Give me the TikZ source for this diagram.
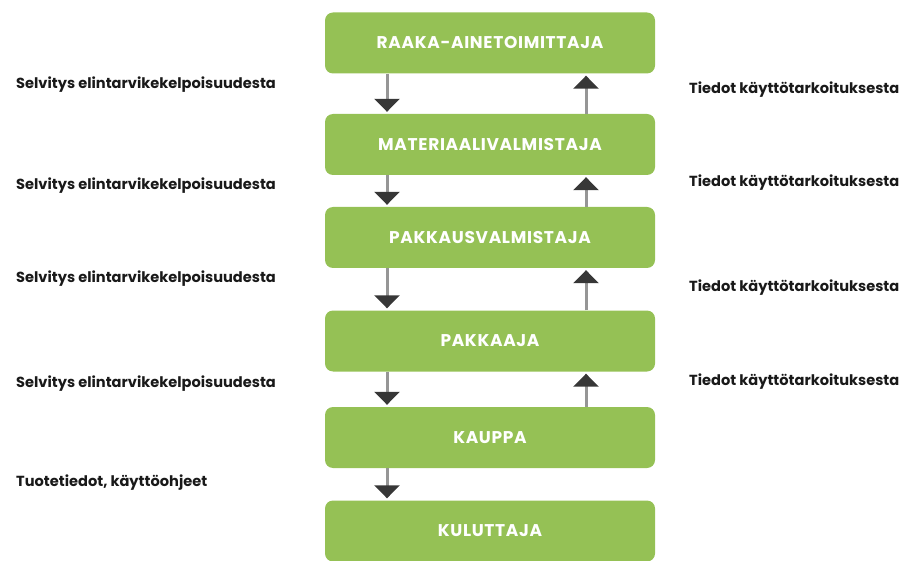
\documentclass[tikz,border=0pt]{standalone}
\usepackage{fontspec}
\setmainfont{Poppins}
\newfontfamily\stagefont[LetterSpace=4]{Poppins}
\usetikzlibrary{arrows.meta}

\definecolor{stagegreen}{RGB}{149,193,85}
\definecolor{shaftgray}{RGB}{150,150,150}
\definecolor{headgray}{RGB}{55,55,55}

\begin{document}
\begin{tikzpicture}[x=1pt,y=-1pt,
    stage/.style={fill=stagegreen,rounded corners=8pt,minimum width=330pt,minimum height=61pt,
        inner sep=0pt,text=white,font=\stagefont\fontsize{17}{17}\selectfont\bfseries},
    note/.style={anchor=west,inner sep=0pt,text=black!90,font=\fontsize{14.6}{14.6}\selectfont\bfseries},
    flow/.style={draw=shaftgray,line width=3pt,-{Triangle[width=25pt,length=13pt,color=headgray]}}]

    \useasboundingbox (0,0) rectangle (902,561);

    \def\down{-103}
    \def\up{96}

    % vaiheet
    \node[stage] (raaka) at (490,43) {RAAKA-AINETOIMITTAJA};
    \node[stage] (materiaali) at (490,144.5) {MATERIAALIVALMISTAJA};
    \node[stage] (pakkaus) at (490,237.5) {PAKKAUSVALMISTAJA};
    \node[stage] (pakkaaja) at (490,341) {PAKKAAJA};
    \node[stage] (kauppa) at (490,437.5) {KAUPPA};
    \node[stage] (kuluttaja) at (490,531) {KULUTTAJA};

    % alas
    \draw[flow] ([xshift=\down]raaka.south) -- ([xshift=\down,yshift=2]materiaali.north);
    \draw[flow] ([xshift=\down]materiaali.south) -- ([xshift=\down,yshift=2]pakkaus.north);
    \draw[flow] ([xshift=\down]pakkaus.south) -- ([xshift=\down,yshift=2]pakkaaja.north);
    \draw[flow] ([xshift=\down]pakkaaja.south) -- ([xshift=\down,yshift=2]kauppa.north);
    \draw[flow] ([xshift=\down]kauppa.south) -- ([xshift=\down,yshift=2]kuluttaja.north);

    % ylös
    \draw[flow] ([xshift=\up]materiaali.north) -- ([xshift=\up,yshift=-2]raaka.south);
    \draw[flow] ([xshift=\up]pakkaus.north) -- ([xshift=\up,yshift=-2]materiaali.south);
    \draw[flow] ([xshift=\up]pakkaaja.north) -- ([xshift=\up,yshift=-2]pakkaus.south);
    \draw[flow] ([xshift=\up]kauppa.north) -- ([xshift=\up,yshift=-2]pakkaaja.south);

    % selitykset
    \node[note] (s1) at (16,85) {Selvitys elintarvikekelpoisuudesta};
    \node[note] (s2) at (16,186) {Selvitys elintarvikekelpoisuudesta};
    \node[note] (s3) at (16,279) {Selvitys elintarvikekelpoisuudesta};
    \node[note] (s4) at (16,384) {Selvitys elintarvikekelpoisuudesta};
    \node[note] (s5) at (16,483) {Tuotetiedot, käyttöohjeet};

    \node[note] (t1) at (689,90) {Tiedot käyttötarkoituksesta};
    \node[note] (t2) at (689,183) {Tiedot käyttötarkoituksesta};
    \node[note] (t3) at (689,288) {Tiedot käyttötarkoituksesta};
    \node[note] (t4) at (689,382) {Tiedot käyttötarkoituksesta};

\end{tikzpicture}
\end{document}
